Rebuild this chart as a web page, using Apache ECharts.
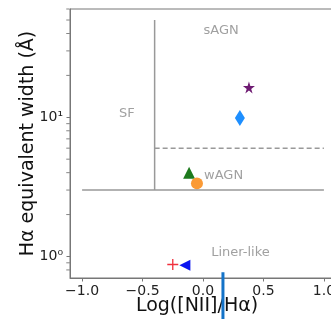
<!DOCTYPE html>
<html>
<head>
<meta charset="utf-8">
<script src="https://cdn.jsdelivr.net/npm/echarts@6/dist/echarts.min.js"></script>
<style>
  html, body { margin: 0; padding: 0; background: #fff; }
  #chart { width: 331px; height: 319px; }
</style>
</head>
<body>
<div id="chart"></div>
<script>
// data
var xTicks = [-1.0, -0.5, 0.0, 0.5, 1.0];
var yTicks = [1, 10];
var yMinorTicks = [0.8, 0.9, 2, 3, 4, 5, 6, 7, 8, 9, 20, 30, 40, 50, 60];

var sfLine = [[-0.4, 3], [-0.4, 50]];
var wagnLine = [[-1.0, 3], [1.0, 3]];
var sagnLine = [[-0.4, 6], [1.0, 6]];

var regionNames = ['sAGN', 'SF', 'wAGN', 'Liner-like'];
var regionPos = [[0.15, 42], [-0.63, 10.7], [0.17, 3.8], [0.31, 1.07]];

var starPt = [[0.38, 16.4]];
var diamondPt = [[0.305, 9.9]];
var trianglePt = [[-0.115, 4.0]];
var circlePt = [[-0.05, 3.35]];
var plusPt = [[-0.25, 0.875]];
var leftTriPt = [[-0.15, 0.865]];
var barLine = [[0.165, 0.77], [0.165, 0.3]];

document.addEventListener("DOMContentLoaded", function() {
    var chart = echarts.init(document.getElementById('chart'));

    var gray = '#999999';
    var labelFont = 'DejaVu Sans';

    function boundary(data, dashed) {
        return {
            type: 'line',
            data: data,
            symbol: 'none',
            silent: true,
            lineStyle: { color: gray, width: 1.5, type: dashed ? [5, 3] : 'solid' }
        };
    }

    function marker(data, symbol, size, color, rotate) {
        return {
            type: 'scatter',
            data: data,
            symbol: symbol,
            symbolSize: size,
            symbolRotate: rotate || 0,
            itemStyle: { color: color, opacity: 1 },
            silent: true
        };
    }

    var option = {
        animation: false,
        grid: {
            left: 70,
            top: 9,
            right: -5,
            bottom: 41,
            outerBoundsMode: 'none',
            containLabel: false,
            show: true,
            borderColor: '#777',
            borderWidth: 1
        },
        xAxis: {
            type: 'value',
            min: -1.1,
            max: 1.1,
            name: 'Log([NII]/H\u03b1)',
            nameLocation: 'middle',
            nameGap: 19,
            nameMoveOverlap: false,
            nameTextStyle: {
                fontFamily: labelFont, fontSize: 19, color: '#111',
                verticalAlign: 'top', padding: [0, 12, 0, 0]
            },
            axisLine: { show: true, onZero: false, lineStyle: { color: '#777' } },
            axisTick: { show: true, length: 3.5, customValues: xTicks, lineStyle: { color: '#777' } },
            axisLabel: {
                customValues: xTicks,
                margin: 6,
                fontFamily: labelFont, fontSize: 14, color: '#222',
                formatter: function(v) { return v.toFixed(1).replace('-', '\u2212'); }
            },
            splitLine: { show: false }
        },
        yAxis: {
            type: 'log',
            logBase: 10,
            min: 0.7,
            max: 60,
            name: 'H\u03b1 equivalent width (\u00c5)',
            nameLocation: 'middle',
            nameGap: 32,
            nameMoveOverlap: false,
            nameTextStyle: { fontFamily: labelFont, fontSize: 19, color: '#111' },
            axisLine: { show: true, onZero: false, lineStyle: { color: '#777' } },
            axisTick: { show: true, length: 3.5, customValues: yTicks, lineStyle: { color: '#777' } },
            axisLabel: {
                customValues: yTicks,
                margin: 7,
                fontFamily: labelFont, fontSize: 14, color: '#222',
                formatter: function(v) { return v >= 10 ? '10\u00b9' : '10\u2070'; }
            },
            splitLine: { show: false }
        },
        series: [
            boundary(sfLine, false),
            boundary(wagnLine, false),
            boundary(sagnLine, true),
            {
                // minor ticks of the log axis
                type: 'scatter',
                data: yMinorTicks.map(function(v) { return [-1.1, v]; }),
                symbol: 'rect',
                symbolSize: [3.5, 1],
                symbolOffset: [-2, 0],
                clip: false,
                silent: true,
                itemStyle: { color: '#666' }
            },
            {
                type: 'scatter',
                data: regionNames.map(function(n, i) {
                    return { name: n, value: regionPos[i] };
                }),
                symbolSize: 0,
                silent: true,
                label: {
                    show: true,
                    position: 'inside',
                    formatter: '{b}',
                    fontFamily: labelFont,
                    fontSize: 13,
                    color: '#888'
                }
            },
            marker(starPt, 'path://M50,0 L61,35 L98,35 L68,57 L79,91 L50,70 L21,91 L32,57 L2,35 L39,35 Z', 12, '#6e1a72'),
            marker(diamondPt, 'diamond', [10, 16], '#1e8fff'),
            marker(trianglePt, 'triangle', 12, '#1d7a1d'),
            marker(circlePt, 'circle', 12, '#fb9a35'),
            marker(plusPt, 'path://M4.4,0 H5.6 V4.4 H10 V5.6 H5.6 V10 H4.4 V5.6 H0 V4.4 H4.4 Z', 11, '#f0303c'),
            marker(leftTriPt, 'triangle', 11, '#0a14f0', 90),
            {
                type: 'line',
                data: barLine,
                symbol: 'none',
                clip: false,
                silent: true,
                lineStyle: { color: '#1473c8', width: 3 }
            }
        ]
    };
    chart.setOption(option);

    window.addEventListener('resize', function() {
        chart.resize();
    });
});
</script>
</body>
</html>
